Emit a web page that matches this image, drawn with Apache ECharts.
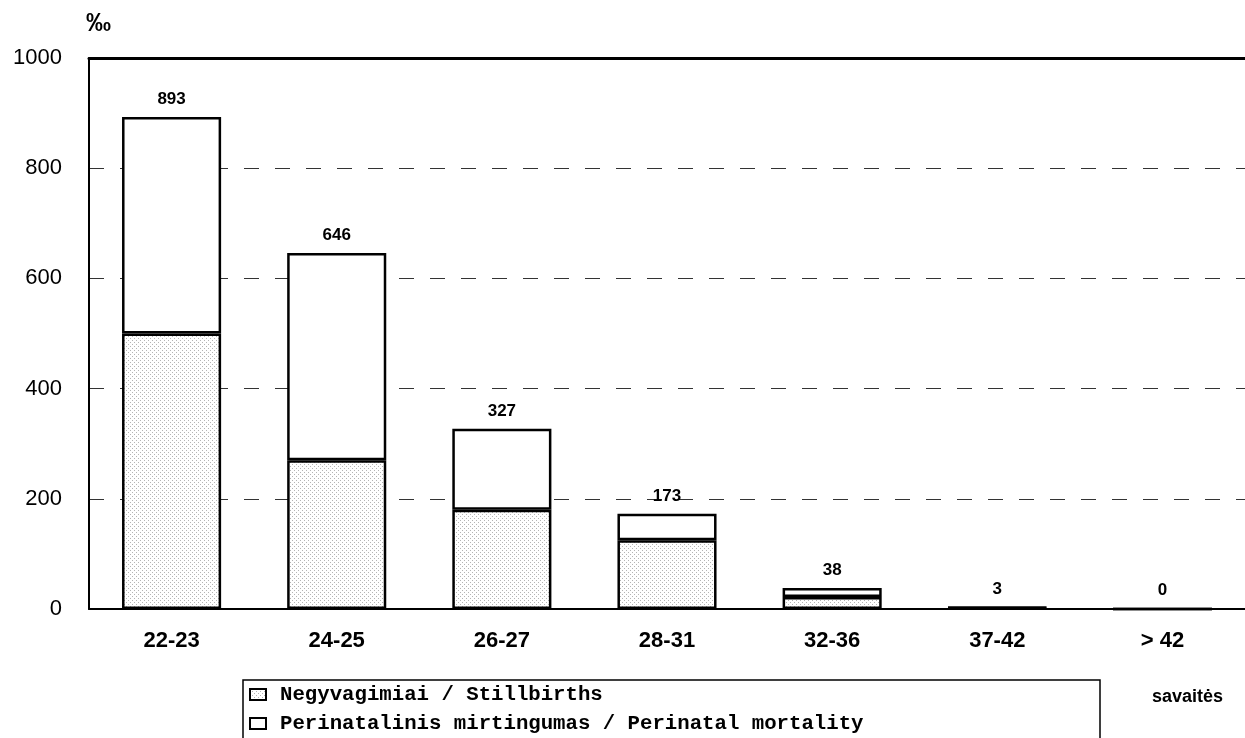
<!DOCTYPE html>
<html><head><meta charset="utf-8">
<script src="https://cdn.jsdelivr.net/npm/echarts@6/dist/echarts.min.js"></script>
<style>html,body{margin:0;padding:0;background:#fff}#c{width:1245px;height:738px}</style>
</head><body><div id="c"></div>
<script>
const categories = ['22-23','24-25','26-27','28-31','32-36','37-42','> 42'];
const perinatal = [893, 646, 327, 173, 38, 3, 0];
const stillbirths = [500, 270, 180, 125, 22, 2, 0];
const yTicks = [0, 200, 400, 600, 800, 1000];

const remainder = perinatal.map((v, i) => v - stillbirths[i]);

const pc = document.createElement('canvas');
pc.width = 4; pc.height = 4;
const g = pc.getContext('2d');
g.fillStyle = '#ffffff'; g.fillRect(0,0,4,4);
g.fillStyle = '#b4b4b4';
g.fillRect(0,0,1,1); g.fillRect(2,2,1,1);

const chart = echarts.init(document.getElementById('c'));
chart.setOption({
  animation: false,
  backgroundColor: '#fff',
  grid: {left: 89, top: 58, width: 1162, height: 551, containLabel: false},
  graphic: [
    {type:'text', left: 86, top: 12, style:{text:'‰', font:'bold 25px "Liberation Sans", Arial', fill:'#000'}},
    {type:'text', left: 1152, top: 688, style:{text:'savaitės', font:'bold 18px "Liberation Sans", Arial', fill:'#000'}},
    {type:'rect', x: 243, y: 680, shape:{width: 857, height: 80}, style:{fill:'none', stroke:'#000', lineWidth: 1.5}, z: 10}
  ],
  legend: {
    orient: 'vertical', left: 249, top: 684,
    icon: 'rect',
    itemWidth: 16, itemHeight: 11, itemGap: 8,
    padding: 0,
    textStyle: {fontFamily: '"Liberation Mono", "Courier New", monospace', fontWeight: 'bold', fontSize: 20.7, color: '#000', padding:[0,0,0,9]},
    data: ['Negyvagimiai / Stillbirths', 'Perinatalinis mirtingumas / Perinatal mortality']
  },
  xAxis: [{
    type: 'category', data: categories, position: 'bottom',
    axisLine: {lineStyle: {color: '#000', width: 2}},
    axisTick: {show: false},
    axisLabel: {color: '#000', fontFamily: '"Liberation Sans", Arial', fontWeight: 'bold', fontSize: 22, margin: 21}
  }, {
    type: 'category', data: categories, position: 'top',
    axisLine: {show: true, lineStyle: {color: '#000', width: 3}},
    axisTick: {show: false}, axisLabel: {show: false}
  }],
  yAxis: {
    type: 'value', min: 0, max: 1000, interval: 200,
    axisLine: {show: true, lineStyle: {color: '#000', width: 2}},
    axisTick: {show: false},
    axisLabel: {color: '#000', fontFamily: '"Liberation Sans", Arial', fontSize: 22, margin: 27,
      formatter: v => yTicks.includes(v) ? String(v) : ''},
    splitLine: {show: true, lineStyle: {color: '#333', width: 1.2, type: [15, 16]}}
  },
  series: [{
    name: 'Negyvagimiai / Stillbirths', type: 'bar', stack: 't', barWidth: '60%',
    data: stillbirths,
    itemStyle: {color: {image: pc, repeat: 'repeat'}, borderColor: '#000', borderWidth: 2.5}
  }, {
    name: 'Perinatalinis mirtingumas / Perinatal mortality', type: 'bar', stack: 't', barWidth: '60%',
    data: remainder,
    itemStyle: {color: '#fff', borderColor: '#000', borderWidth: 2.5},
    label: {show: true, position: 'top', distance: 9, color: '#000',
      fontFamily: '"Liberation Sans", Arial', fontWeight: 'bold', fontSize: 17,
      formatter: p => String(perinatal[p.dataIndex])}
  }]
});
</script></body></html>
